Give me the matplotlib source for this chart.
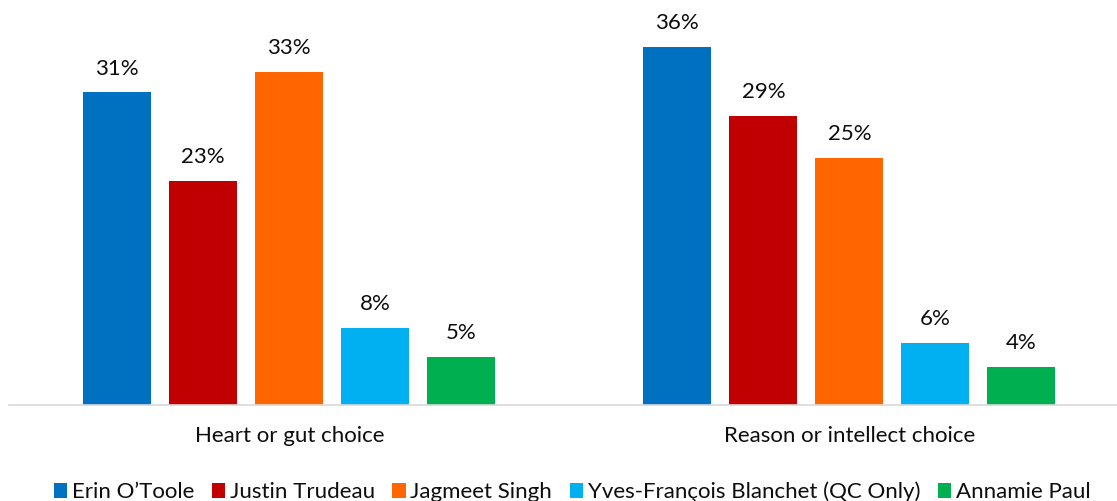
import matplotlib
matplotlib.use("Agg")
import matplotlib.pyplot as plt
import numpy as np
from matplotlib.patches import Patch

plt.rcParams['font.family'] = ['Lato', 'DejaVu Sans']

categories = ["Heart or gut choice", "Reason or intellect choice"]
series_names = ["Erin O\u2019Toole", "Justin Trudeau", "Jagmeet Singh",
                "Yves-Fran\u00e7ois Blanchet (QC Only)", "Annamie Paul"]
values = {
    "Erin O\u2019Toole": [31.4, 36.0],
    "Justin Trudeau": [22.55, 29.0],
    "Jagmeet Singh": [33.45, 24.85],
    "Yves-Fran\u00e7ois Blanchet (QC Only)": [7.7, 6.25],
    "Annamie Paul": [4.8, 3.85],
}
colors = ["#0070C0", "#C00000", "#FF6600", "#00B0F0", "#00B050"]

W, H = 1117, 501
fig = plt.figure(figsize=(W / 100, H / 100), dpi=100)
ax = fig.add_axes([9.3 / W, (H - 405) / H, (W - 9.3) / W, 398.2 / H])

x = np.arange(len(categories))
step = 86 / 560
width = 68 / 560
fs = 16
for i, name in enumerate(series_names):
    pos = x + (i - 2) * step
    bars = ax.bar(pos, values[name], width=width, color=colors[i], zorder=2)
    ax.bar_label(bars, labels=[f"{round(v)}%" for v in values[name]],
                 padding=10, fontsize=fs, color="#0D0D0D")

ax.set_ylim(0, 40)
ax.set_xlim(-0.5, 1.478)
ax.set_xticks(x)
ax.set_xticklabels(categories, fontsize=fs, color="#0D0D0D")
ax.tick_params(axis='x', length=0, pad=15)
ax.set_yticks([])
for s in ["left", "right", "top"]:
    ax.spines[s].set_visible(False)
ax.spines["bottom"].set_color("#D9D9D9")
ax.spines["bottom"].set_linewidth(1.2)

handles = [Patch(facecolor=c, edgecolor='none') for c in colors]
fig.legend(handles, series_names, loc='center', bbox_to_anchor=(572 / W, 9 / H),
           ncol=5, frameon=False, fontsize=fs, handlelength=0.6, handleheight=0.6,
           handletextpad=0.2, columnspacing=0.8, borderaxespad=0, borderpad=0,
           labelcolor="#0D0D0D")

fig.savefig("out.png", dpi=100)
